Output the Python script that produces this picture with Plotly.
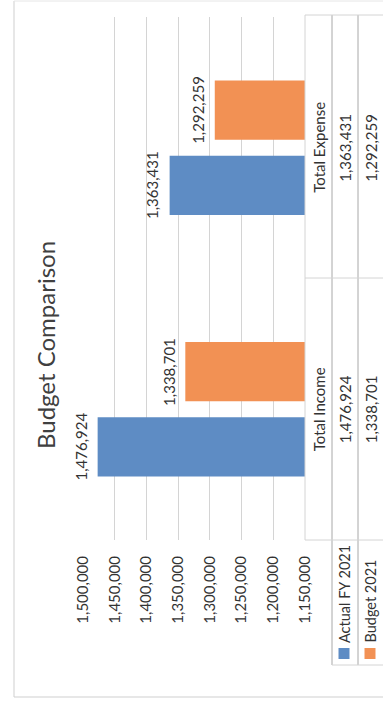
import plotly.graph_objects as go

# Chart data
categories = ["Total Income", "Total Expense"]
series_names = ["Actual FY 2021", "Budget 2021"]
actual_fy2021 = [1476924, 1363431]
budget_2021 = [1338701, 1292259]
axis_min, axis_max, axis_step = 1150000, 1500000, 50000

colors = ["#5E8CC4", "#F29154"]
text_color = "#333333"
font_family = "Lato, 'Open Sans', sans-serif"
fs = 15

W, H = 383, 708
# plot area in pixels (the chart is laid out turned a quarter turn)
PL, PR, PT, PB = 83, 305, 17, 540


def px_x(px):
    return (px - PL) / (PR - PL)


def px_y(py):
    return (PB - py) / (PB - PT)


bar_w = 0.226
half_gap = 0.031
offsets = [-(half_gap + bar_w), half_gap]
series = [actual_fy2021, budget_2021]

fig = go.Figure()
for name, vals, col, off in zip(series_names, series, colors, offsets):
    fig.add_trace(go.Bar(
        name=name, y=categories, x=vals, orientation="h",
        width=bar_w, offset=off, marker=dict(color=col, line=dict(width=0)),
        hoverinfo="x+name", showlegend=False,
    ))

annotations = []
# value labels at the end of each bar
for vals, off in zip(series, offsets):
    for i, v in enumerate(vals):
        annotations.append(dict(
            x=v, y=i + off + bar_w / 2, xref="x", yref="y",
            text=f"{v:,}", textangle=-90, showarrow=False,
            xanchor="right", yanchor="middle", xshift=-6,
            font=dict(size=fs, color=text_color, family=font_family),
        ))

# data table: category header row and one row per series
row_px = [319, 345, 371]
for i, cat in enumerate(categories):
    annotations.append(dict(
        x=px_x(row_px[0]), y=i, xref="paper", yref="y", text=cat,
        textangle=-90, showarrow=False, xanchor="center", yanchor="middle",
        font=dict(size=fs, color=text_color, family=font_family),
    ))
    for r, vals in enumerate(series):
        annotations.append(dict(
            x=px_x(row_px[r + 1]), y=i, xref="paper", yref="y",
            text=f"{vals[i]:,}", textangle=-90, showarrow=False,
            xanchor="center", yanchor="middle",
            font=dict(size=fs, color=text_color, family=font_family),
        ))

# row labels with colour keys
shapes = []
for r, (name, col) in enumerate(zip(series_names, colors)):
    cx = row_px[r + 1] - 1
    annotations.append(dict(
        x=px_x(cx), y=px_y(645), xref="paper", yref="paper", text=name,
        textangle=-90, showarrow=False, xanchor="center", yanchor="bottom",
        font=dict(size=fs - 0.5, color=text_color, family=font_family),
    ))
    shapes.append(dict(
        type="rect", xref="paper", yref="paper",
        x0=px_x(cx - 5.5), x1=px_x(cx + 5.5), y0=px_y(648), y1=px_y(659),
        fillcolor=col, line=dict(width=0),
    ))

# title
annotations.append(dict(
    x=px_x(45), y=px_y(345), xref="paper", yref="paper",
    text="Budget Comparison", textangle=-90, showarrow=False,
    xanchor="center", yanchor="middle",
    font=dict(size=24, color="#404040", family=font_family),
))

grid = "#d4d4d4"


def line(x0, y0, x1, y1, color=grid):
    shapes.append(dict(
        type="line", xref="paper", yref="paper",
        x0=px_x(x0), y0=px_y(y0), x1=px_x(x1), y1=px_y(y1),
        line=dict(color=color, width=1),
    ))


# table borders
line(305, 15, 305, 540)
line(332, 15, 332, 665, "#a8a8a8")
line(358, 15, 358, 665, "#a8a8a8")
line(305, 15, 390, 15)
line(305, 278, 390, 278)
line(305, 540, 390, 540)
line(332, 665, 390, 665)

# chart frame
line(14, 1, 14, 697, "#cfcfcf")
line(14, 697, 390, 697, "#cfcfcf")
line(14, 1, 390, 1, "#e6e6e6")

fig.update_layout(
    width=W, height=H,
    margin=dict(l=PL, r=W - PR, t=PT, b=H - PB, pad=0),
    paper_bgcolor="white", plot_bgcolor="white",
    barmode="overlay",
    showlegend=False,
    font=dict(family=font_family, color=text_color),
    xaxis=dict(
        range=[axis_max, axis_min], tick0=axis_min, dtick=axis_step,
        tickformat=",d", tickangle=-90, showgrid=True, gridcolor=grid,
        gridwidth=1, zeroline=False, showline=False, ticks="",
        ticklabelstandoff=12,
        tickfont=dict(size=fs, color=text_color, family=font_family),
    ),
    yaxis=dict(
        type="category", categoryorder="array", categoryarray=categories,
        range=[-0.5, 1.5], showticklabels=False, showgrid=False,
        zeroline=False, showline=False,
    ),
    annotations=annotations,
    shapes=shapes,
)

fig.write_html("out.html")
